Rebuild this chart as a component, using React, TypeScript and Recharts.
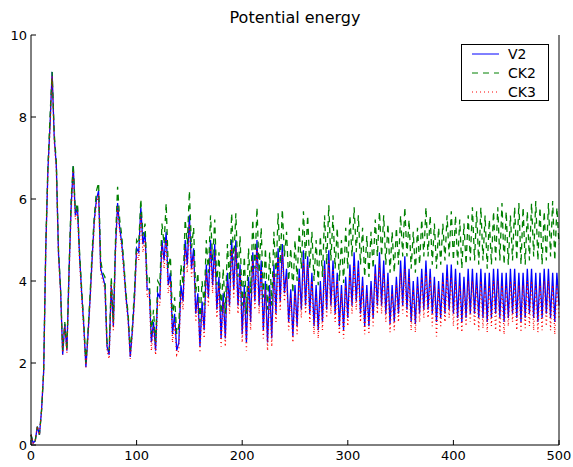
import React from 'react';
import { LineChart, Line, XAxis, YAxis } from 'recharts';

// Sampled every 2 units of x, from 0 to 500
const V2 = [
  0.25, 0.05, 0.1, 0.45, 0.25, 0.85, 1.8, 4.8, 6.7, 7.8,
  9.1, 7.5, 6.8, 4.7, 3.8, 2.2, 2.95, 2.3, 4.2, 5.8,
  6.8, 5.6, 5.8, 4.6, 3.7, 2.9, 1.9, 2.7, 3.6, 4.6,
  5.5, 6.0, 6.2, 4.3, 4.1, 3.9, 2.4, 2.2, 3.9, 2.9,
  4.8, 5.9, 5.3, 4.9, 4.3, 3.6, 3.1, 2.15, 2.8, 3.6,
  4.8, 4.7, 5.8, 4.9, 5.2, 3.8, 3.8, 2.5, 3.0, 2.3,
  3.7, 3.6, 5.0, 4.5, 5.2, 3.9, 4.2, 2.7, 3.2, 2.3,
  2.5, 3.9, 3.5, 5.0, 4.4, 5.6, 4.3, 4.8, 3.2, 3.7,
  2.4, 3.5, 2.8, 4.4, 3.6, 5.0, 3.9, 4.9, 3.3, 4.1,
  2.6, 3.7, 2.6, 4.2, 3.4, 5.0, 3.8, 5.0, 3.4, 4.4,
  2.7, 3.9, 2.5, 4.1, 3.0, 4.7, 3.5, 5.0, 3.4, 4.5,
  2.8, 4.0, 2.5, 3.9, 2.6, 4.4, 3.2, 4.8, 3.5, 4.9,
  3.7, 4.3, 3.0, 3.8, 2.65, 3.9, 2.9, 4.3, 3.3, 4.75,
  3.4, 4.6, 3.2, 4.2, 2.9, 3.9, 2.8, 4.0, 3.0, 4.5,
  3.3, 4.75, 3.4, 4.5, 3.2, 4.2, 2.9, 3.9, 2.8, 4.1,
  3.1, 4.4, 3.4, 4.7, 3.5, 4.5, 3.2, 4.1, 2.9, 3.9,
  2.9, 4.0, 3.1, 4.4, 3.4, 4.7, 3.4, 4.5, 3.2, 4.2,
  2.95, 3.9, 3.0, 4.1, 3.2, 4.5, 3.4, 4.6, 3.3, 4.3,
  3.0, 4.0, 2.95, 4.1, 3.2, 4.3, 3.3, 4.5, 3.3, 4.3,
  3.2, 4.1, 3.0, 4.0, 3.1, 4.2, 3.2, 4.4, 3.3, 4.4,
  3.2, 4.3, 3.1, 4.2, 3.0, 4.1, 3.1, 4.3, 3.2, 4.3,
  3.2, 4.2, 3.1, 4.3, 3.1, 4.2, 3.0, 4.2, 3.1, 4.3,
  3.2, 4.3, 3.1, 4.2, 3.0, 4.2, 3.1, 4.3, 3.2, 4.3,
  3.1, 4.2, 3.0, 4.2, 3.1, 4.3, 3.2, 4.3, 3.1, 4.2,
  3.0, 4.2, 3.1, 4.3, 3.2, 4.3, 3.1, 4.2, 3.0, 4.2, 3.4,
];

const CK2 = [
  0.25, 0.05, 0.1, 0.45, 0.25, 0.85, 1.8, 4.9, 6.8, 8.0,
  9.1, 7.6, 6.9, 4.8, 3.8, 2.3, 3.0, 2.3, 4.3, 6.0,
  6.85, 5.7, 5.9, 4.7, 3.8, 3.0, 2.0, 2.8, 3.7, 4.8,
  5.6, 6.2, 6.4, 4.5, 4.2, 4.1, 2.5, 2.3, 4.1, 3.0,
  5.0, 6.3, 5.5, 5.1, 4.4, 3.7, 3.2, 2.3, 2.9, 3.8,
  5.0, 4.9, 6.0, 5.1, 5.4, 4.0, 4.1, 2.7, 3.3, 2.5,
  4.0, 3.9, 5.4, 4.9, 5.9, 4.3, 4.6, 3.1, 3.6, 2.7,
  2.9, 4.4, 3.9, 5.5, 4.9, 6.2, 4.8, 5.3, 3.7, 4.2,
  3.0, 4.0, 3.4, 5.0, 4.2, 5.6, 4.5, 5.5, 3.9, 4.7,
  3.2, 4.3, 3.2, 4.9, 4.0, 5.65, 4.5, 5.65, 4.1, 5.1,
  3.4, 4.6, 3.2, 4.8, 3.7, 5.5, 4.3, 5.8, 4.2, 5.3,
  3.6, 4.8, 3.3, 4.7, 3.4, 5.2, 4.1, 5.65, 4.4, 5.75,
  4.6, 5.2, 4.0, 4.8, 3.7, 5.0, 4.0, 5.3, 4.3, 5.7,
  4.5, 5.6, 4.3, 5.2, 4.0, 5.0, 3.9, 5.1, 4.1, 5.6,
  4.4, 5.85, 4.5, 5.6, 4.3, 5.3, 4.0, 5.0, 3.95, 5.3,
  4.3, 5.6, 4.6, 5.8, 4.7, 5.6, 4.4, 5.3, 4.1, 5.1,
  4.1, 5.2, 4.3, 5.5, 4.6, 5.7, 4.6, 5.6, 4.4, 5.4,
  4.2, 5.2, 4.2, 5.3, 4.4, 5.6, 4.6, 5.8, 4.6, 5.5,
  4.3, 5.2, 4.2, 5.3, 4.4, 5.5, 4.6, 5.8, 4.6, 5.6,
  4.4, 5.4, 4.3, 5.3, 4.4, 5.4, 4.5, 5.6, 4.6, 5.7,
  4.5, 5.6, 4.4, 5.5, 4.3, 5.4, 4.4, 5.6, 4.5, 5.8,
  4.5, 5.7, 4.4, 5.8, 4.5, 5.6, 4.3, 5.5, 4.4, 5.7,
  4.5, 5.8, 4.5, 5.9, 4.4, 5.7, 4.4, 5.6, 4.5, 5.8,
  4.5, 5.9, 4.4, 5.8, 4.4, 5.7, 4.5, 5.9, 4.6, 5.95,
  4.5, 5.8, 4.4, 5.7, 4.5, 5.9, 4.6, 5.95, 4.5, 5.8, 4.9,
];

const CK3 = [
  0.25, 0.05, 0.1, 0.45, 0.25, 0.85, 1.8, 4.8, 6.6, 7.7,
  9.0, 7.4, 6.7, 4.6, 3.7, 2.2, 2.9, 2.25, 4.1, 5.7,
  6.7, 5.5, 5.7, 4.5, 3.6, 2.8, 1.9, 2.6, 3.5, 4.5,
  5.4, 5.9, 6.1, 4.2, 4.0, 3.8, 2.3, 2.1, 3.9, 2.8,
  4.7, 5.8, 5.2, 4.8, 4.2, 3.5, 3.0, 2.1, 2.7, 3.5,
  4.7, 4.5, 5.6, 4.7, 5.0, 3.6, 3.7, 2.3, 2.9, 2.2,
  3.5, 3.4, 4.9, 4.3, 5.0, 3.7, 4.0, 2.5, 3.0, 2.2,
  2.3, 3.7, 3.3, 4.8, 4.2, 5.4, 4.1, 4.6, 3.0, 3.5,
  2.25, 3.3, 2.6, 4.2, 3.4, 4.8, 3.7, 4.7, 3.1, 3.9,
  2.4, 3.5, 2.4, 4.0, 3.2, 4.8, 3.6, 4.8, 3.2, 4.2,
  2.5, 3.7, 2.3, 3.9, 2.8, 4.5, 3.3, 4.8, 3.2, 4.3,
  2.6, 3.8, 2.3, 3.7, 2.4, 4.2, 3.0, 4.6, 3.3, 4.7,
  3.5, 4.1, 2.8, 3.6, 2.5, 3.7, 2.7, 4.1, 3.1, 4.5,
  3.2, 4.4, 3.0, 4.0, 2.7, 3.7, 2.6, 3.8, 2.8, 4.3,
  3.1, 4.5, 3.2, 4.3, 3.0, 4.0, 2.7, 3.7, 2.6, 3.9,
  2.9, 4.2, 3.2, 4.4, 3.3, 4.3, 3.0, 3.9, 2.7, 3.7,
  2.7, 3.8, 2.9, 4.2, 3.2, 4.4, 3.2, 4.2, 3.0, 4.0,
  2.75, 3.7, 2.8, 3.9, 3.0, 4.2, 3.2, 4.3, 3.1, 4.1,
  2.8, 3.8, 2.75, 3.9, 3.0, 4.1, 3.1, 4.2, 3.1, 4.1,
  2.9, 3.9, 2.65, 3.8, 2.9, 4.0, 3.0, 4.1, 3.1, 4.1,
  2.9, 4.0, 2.8, 3.9, 2.75, 3.8, 2.9, 4.0, 3.0, 4.0,
  2.9, 3.9, 2.8, 4.0, 2.85, 3.9, 2.75, 3.9, 2.9, 4.0,
  2.8, 4.0, 2.75, 3.9, 2.7, 3.9, 2.9, 4.0, 3.0, 4.0,
  2.8, 3.9, 2.75, 3.9, 2.85, 4.0, 2.9, 4.0, 2.8, 3.9,
  2.75, 3.9, 2.8, 4.0, 2.9, 4.0, 2.8, 3.9, 2.7, 3.9, 3.1,
];

const X_STEP = 2;
const X_TICKS = [0, 100, 200, 300, 400, 500];
const Y_TICKS = [0, 2, 4, 6, 8, 10];
const SERIES = [
  { key: 'V2', color: '#0000ff', dash: undefined as string | undefined },
  { key: 'CK2', color: '#008000', dash: '6 5' },
  { key: 'CK3', color: '#ff0000', dash: '1 3' },
];

const data = V2.map((v, i) => ({ x: i * X_STEP, V2: v, CK2: CK2[i], CK3: CK3[i] }));

const FONT = '"DejaVu Sans", sans-serif';
const TL = 5;

const BottomTick = (p: any) => (
  <g>
    <line x1={p.x} y1={p.y} x2={p.x} y2={p.y - TL} stroke="#000" />
    <text x={p.x} y={p.y + 15} textAnchor="middle" fontSize={13} fontFamily={FONT} fill="#000">
      {p.payload.value}
    </text>
  </g>
);
const TopTick = (p: any) => (
  <line x1={p.x} y1={p.y} x2={p.x} y2={p.y + TL} stroke="#000" />
);
const LeftTick = (p: any) => (
  <g>
    <line x1={p.x} y1={p.y} x2={p.x + TL} y2={p.y} stroke="#000" />
    <text x={p.x - 4} y={p.y + 5} textAnchor="end" fontSize={13} fontFamily={FONT} fill="#000">
      {p.payload.value}
    </text>
  </g>
);
const RightTick = (p: any) => (
  <line x1={p.x} y1={p.y} x2={p.x - TL} y2={p.y} stroke="#000" />
);

const LegendBox = () => (
  <div
    style={{
      position: 'absolute',
      left: 461,
      top: 44,
      width: 86,
      height: 55,
      border: '1px solid #000',
      background: '#fff',
    }}
  >
    <svg width={86} height={55} style={{ display: 'block' }}>
      {SERIES.map((s, i) => (
        <g key={s.key}>
          <line
            x1={10}
            x2={37}
            y1={9 + i * 19}
            y2={9 + i * 19}
            stroke={s.color}
            strokeWidth={1}
            strokeDasharray={s.dash}
          />
          <text x={46} y={14 + i * 19} fontSize={14} fontFamily={FONT} fill="#000">
            {s.key}
          </text>
        </g>
      ))}
    </svg>
  </div>
);

export default function App() {
  return (
    <div style={{ position: 'absolute', left: 0, top: 0, width: 573, height: 467, background: '#fff' }}>
      <div
        style={{
          position: 'absolute',
          left: 31,
          width: 528,
          top: 8,
          textAlign: 'center',
          fontFamily: FONT,
          fontSize: 16,
          lineHeight: '19px',
          color: '#000',
        }}
      >
        Potential energy
      </div>
      <LineChart width={573} height={467} data={data} margin={{ top: 35, right: 0, bottom: 0, left: 0 }}>
        <XAxis
          xAxisId="b"
          dataKey="x"
          type="number"
          domain={[0, 500]}
          ticks={X_TICKS}
          height={22}
          tickSize={0}
          tickMargin={0}
          tickLine={false}
          tick={BottomTick}
          axisLine={{ stroke: '#000' }}
          interval={0}
        />
        <XAxis
          xAxisId="t"
          orientation="top"
          dataKey="x"
          type="number"
          domain={[0, 500]}
          ticks={X_TICKS}
          height={0}
          tickSize={0}
          tickMargin={0}
          tickLine={false}
          tick={TopTick}
          axisLine={{ stroke: '#000' }}
          interval={0}
        />
        <YAxis
          yAxisId="l"
          type="number"
          domain={[0, 10]}
          ticks={Y_TICKS}
          width={31}
          tickSize={0}
          tickMargin={0}
          tickLine={false}
          tick={LeftTick}
          axisLine={{ stroke: '#000' }}
          interval={0}
        />
        <YAxis
          yAxisId="r"
          orientation="right"
          type="number"
          domain={[0, 10]}
          ticks={Y_TICKS}
          width={14}
          tickSize={0}
          tickMargin={0}
          tickLine={false}
          tick={RightTick}
          axisLine={{ stroke: '#000' }}
          interval={0}
        />
        {SERIES.map((s) => (
          <Line
            key={s.key}
            xAxisId="b"
            yAxisId="l"
            type="linear"
            dataKey={s.key}
            stroke={s.color}
            strokeWidth={1.3}
            strokeDasharray={s.dash}
            dot={false}
            activeDot={false}
            isAnimationActive={false}
          />
        ))}
      </LineChart>
      <LegendBox />
    </div>
  );
}
